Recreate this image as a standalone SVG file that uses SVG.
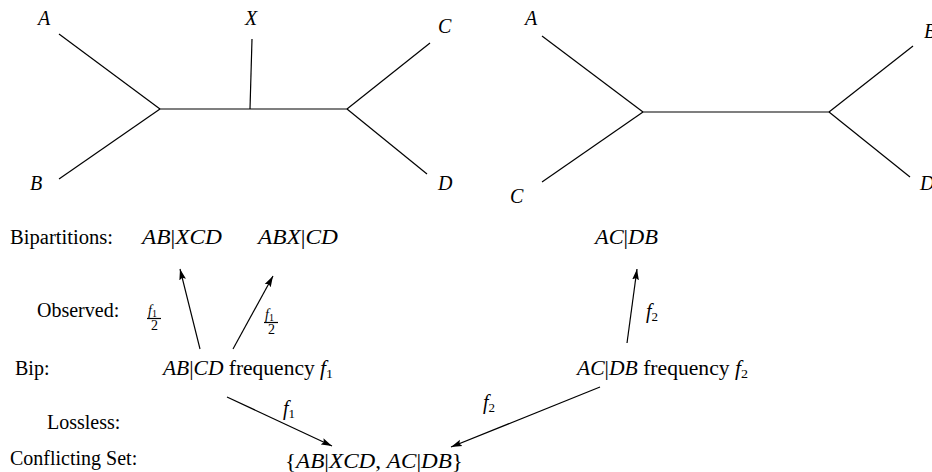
<svg xmlns="http://www.w3.org/2000/svg" width="932" height="472" viewBox="0 0 932 472">
<style>
text{font-family:"Liberation Serif","Times New Roman",serif;font-size:20px;fill:#000}
.m{font-style:italic}
.u{font-style:normal}
.sub{font-size:13px;font-style:normal}
.fr{font-size:14px}
.frs{font-size:10px;font-style:normal}
.tree line{stroke:#000;stroke-width:1.2;fill:none}
.conn line{stroke:#000;stroke-width:1.2;fill:none}
</style>
<defs>
<marker id="ah" markerUnits="userSpaceOnUse" markerWidth="12" markerHeight="8" refX="11" refY="4" orient="auto">
<path d="M0,0.6 L11,4 L0,7.4 L2,4 Z" fill="#000"/>
</marker>
</defs>
<rect width="932" height="472" fill="#fff"/>

<g id="tree1" class="tree">
<line x1="59" y1="34" x2="160" y2="109"/>
<line x1="59" y1="179" x2="160" y2="109"/>
<line x1="160" y1="109" x2="347" y2="109"/>
<line x1="252" y1="39" x2="250" y2="109"/>
<line x1="430" y1="43" x2="347" y2="109"/>
<line x1="427" y1="174" x2="347" y2="109"/>
<text class="m" x="38" y="25">A</text>
<text class="m" x="245" y="25">X</text>
<text class="m" x="438" y="33">C</text>
<text class="m" x="30" y="190">B</text>
<text class="m" x="438" y="190">D</text>
</g>

<g id="tree2" class="tree">
<line x1="542" y1="36" x2="643" y2="112"/>
<line x1="542" y1="182" x2="643" y2="112"/>
<line x1="643" y1="112" x2="829" y2="112"/>
<line x1="913" y1="46" x2="829" y2="112"/>
<line x1="910" y1="177" x2="829" y2="112"/>
<text class="m" x="525" y="25">A</text>
<text class="m" x="510" y="203">C</text>
<text class="m" x="924" y="38">B</text>
<text class="m" x="920" y="190">D</text>
</g>

<g id="labels">
<text x="10" y="244" textLength="103" lengthAdjust="spacingAndGlyphs">Bipartitions:</text>
<text x="37" y="317">Observed:</text>
<text x="15" y="375">Bip:</text>
<text x="47" y="429">Lossless:</text>
<text x="10" y="465">Conflicting Set:</text>
</g>

<g id="bip-abxcd"><text class="m" x="142" y="244" textLength="80" lengthAdjust="spacingAndGlyphs">AB<tspan class="u">|</tspan>XCD</text></g>
<g id="bip-abxcd2"><text class="m" x="258" y="244" textLength="80" lengthAdjust="spacingAndGlyphs">ABX<tspan class="u">|</tspan>CD</text></g>
<g id="bip-acdb"><text class="m" x="595" y="244" textLength="63" lengthAdjust="spacingAndGlyphs">AC<tspan class="u">|</tspan>DB</text></g>

<g id="bip1"><text class="m" x="163" y="375" textLength="170" lengthAdjust="spacingAndGlyphs">AB<tspan class="u">|</tspan>CD<tspan class="u"> frequency </tspan>f<tspan class="sub" dy="3">1</tspan></text></g>
<g id="bip2"><text class="m" x="577" y="375" textLength="171" lengthAdjust="spacingAndGlyphs">AC<tspan class="u">|</tspan>DB<tspan class="u"> frequency </tspan>f<tspan class="sub" dy="3">2</tspan></text></g>

<g id="conflict"><text x="285" y="468" textLength="178" lengthAdjust="spacingAndGlyphs">{<tspan class="m">AB</tspan>|<tspan class="m">XCD</tspan>, <tspan class="m">AC</tspan>|<tspan class="m">DB</tspan>}</text></g>

<g id="connectors" class="conn">
<line x1="200" y1="349" x2="180" y2="269" marker-end="url(#ah)"/>
<line x1="233" y1="349" x2="273" y2="276" marker-end="url(#ah)"/>
<line x1="627" y1="343" x2="637" y2="269" marker-end="url(#ah)"/>
<line x1="227" y1="397" x2="332" y2="446" marker-end="url(#ah)"/>
<line x1="600" y1="387" x2="451" y2="447" marker-end="url(#ah)"/>
<line x1="147" y1="318.5" x2="161" y2="318.5" stroke-width="0.8"/>
<line x1="264" y1="322.5" x2="278" y2="322.5" stroke-width="0.8"/>
</g>

<g id="edge-labels">
<text class="m fr" x="148" y="315">f<tspan class="frs" dy="2">1</tspan></text>
<text class="fr" x="151" y="330">2</text>
<text class="m fr" x="265" y="319">f<tspan class="frs" dy="2">1</tspan></text>
<text class="fr" x="268" y="334">2</text>
<text class="m" x="646" y="318">f<tspan class="sub" dy="3">2</tspan></text>
<text class="m" x="283" y="415">f<tspan class="sub" dy="3">1</tspan></text>
<text class="m" x="483" y="409">f<tspan class="sub" dy="3">2</tspan></text>
</g>
</svg>
